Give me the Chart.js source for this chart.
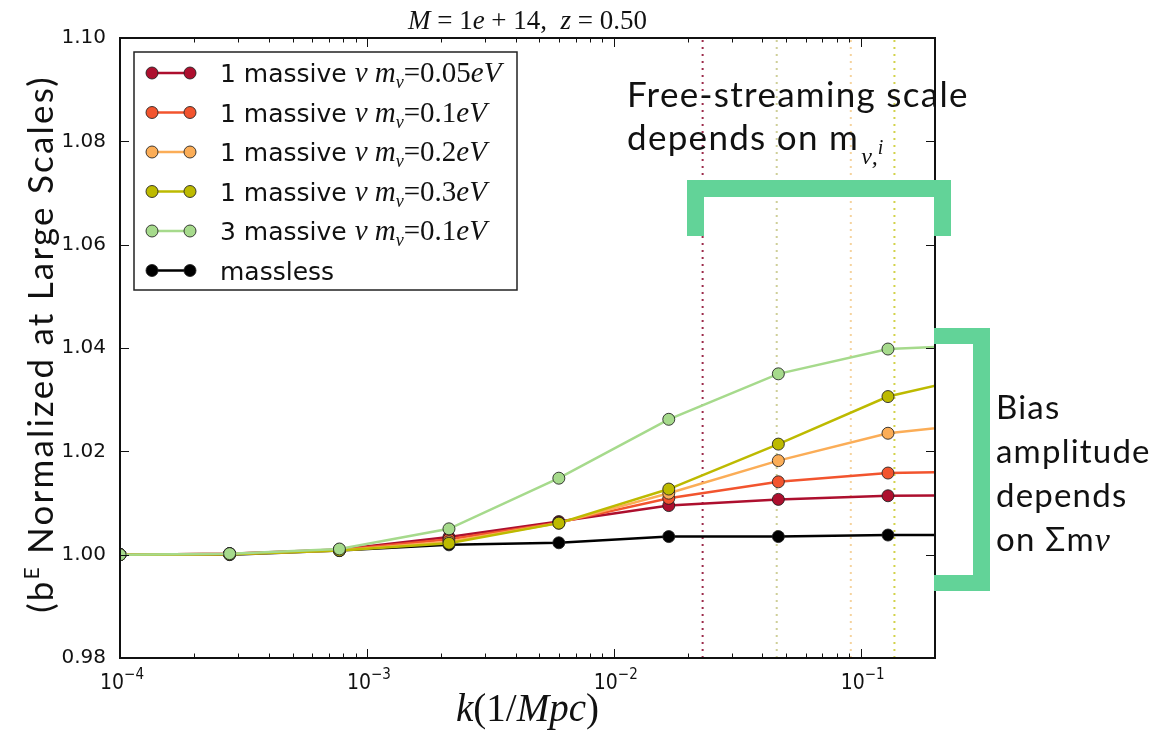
<!DOCTYPE html>
<html>
<head>
<meta charset="utf-8">
<script src="https://cdn.jsdelivr.net/npm/chart.js@4/dist/chart.umd.min.js"></script>
<style>
  body { margin: 0; background: #fff; }
  canvas { display: block; }
</style>
</head>
<body>
<canvas id="grafico" width="1161" height="736"></canvas>
<script>
// k values (1/Mpc) of the sampled points, last one lies beyond the axis edge
const kValues = [1e-4, 2.78e-4, 7.74e-4, 2.15e-3, 5.99e-3, 1.67e-2, 4.64e-2, 0.129, 0.359];

const biasNu005 = [1.0000, 1.0002, 1.0010, 1.0034, 1.0064, 1.0095, 1.0107, 1.0114, 1.0115];
const biasNu01 = [1.0000, 1.0002, 1.0009, 1.0030, 1.0062, 1.0109, 1.0141, 1.0158, 1.0162];
const biasNu02 = [1.0000, 1.0001, 1.0008, 1.0025, 1.0061, 1.0119, 1.0182, 1.0235, 1.0258];
const biasNu03 = [1.0000, 1.0001, 1.0008, 1.0022, 1.0061, 1.0127, 1.0214, 1.0306, 1.0355];
const bias3Nu01 = [1.0000, 1.0002, 1.0011, 1.0050, 1.0148, 1.0262, 1.0350, 1.0398, 1.0407];
const biasMassless = [1.0000, 1.0000, 1.0008, 1.0019, 1.0023, 1.0035, 1.0035, 1.0038, 1.0038];

const seriesCount = [1, 1, 1, 1, 3, 0];
const seriesMass = ['0.05', '0.1', '0.2', '0.3', '0.1', null];
const seriesColors = ['#ad0f2e', '#f2542e', '#fbad57', '#bdba00', '#a6da8c', '#000000'];

// free-streaming scales (vertical dotted lines)
const freeStreamK = [0.0229, 0.0457, 0.0912, 0.137];
const freeStreamColors = ['#9c2b4b', '#cfcf98', '#f5d39e', '#d2d24a'];

const xMajorTicks = [1e-4, 1e-3, 1e-2, 1e-1];
const xTickExp = ['-4', '-3', '-2', '-1'];
const yTicks = [0.98, 1.00, 1.02, 1.04, 1.06, 1.08, 1.10];

const SERIF = '"Liberation Serif", "DejaVu Serif", serif';
const SANS = '"DejaVu Sans", sans-serif';
const COND = '"DejaVu Sans Condensed", "DejaVu Sans", sans-serif';
const NOTE = 'Lato, "Open Sans", sans-serif';
const GREEN = '#62d398';

const allSeries = [biasNu005, biasNu01, biasNu02, biasNu03, bias3Nu01, biasMassless];
// drawing order: green on top, black at the bottom
const drawOrder = [5, 4, 3, 2, 1, 6];

const datasets = allSeries.map((vals, i) => ({
  data: kValues.map((k, j) => ({ x: k, y: vals[j] })),
  borderColor: seriesColors[i],
  backgroundColor: seriesColors[i],
  pointBackgroundColor: seriesColors[i],
  pointBorderColor: 'rgba(30,30,30,0.85)',
  pointBorderWidth: 1,
  pointRadius: 6,
  borderWidth: 2.5,
  tension: 0,
  clip: 0,
  order: drawOrder[i],
  inLegend: true
}));

freeStreamK.forEach((k, i) => {
  datasets.push({
    data: [{ x: k, y: yTicks[0] }, { x: k, y: yTicks[yTicks.length - 1] }],
    borderColor: freeStreamColors[i],
    borderWidth: 2,
    borderDash: [2, 5],
    pointRadius: 0,
    clip: 0,
    order: 10,
    inLegend: false
  });
});

// draws mixed-font text, returns the x where it ends
function drawRuns(ctx, runs, x, y, align, spacing) {
  ctx.letterSpacing = (spacing || 0) + 'px';
  let w = 0;
  runs.forEach(r => { ctx.font = r.font; r.w = ctx.measureText(r.t).width; w += r.w; });
  let cx = align === 'center' ? x - w / 2 : x;
  runs.forEach(r => {
    ctx.font = r.font;
    ctx.fillText(r.t, cx, y + (r.dy || 0));
    cx += r.w;
  });
  ctx.letterSpacing = '0px';
  return cx;
}

const decor = {
  id: 'decor',
  afterDatasetsDraw(chart) {
    const ctx = chart.ctx;
    const a = chart.chartArea;
    const xs = chart.scales.x, ys = chart.scales.y;
    ctx.save();
    ctx.strokeStyle = '#111';
    ctx.lineWidth = 1;
    // inward ticks, like matplotlib
    xs.ticks.forEach(t => {
      const px = Math.round(xs.getPixelForValue(t.value)) + 0.5;
      const len = xMajorTicks.includes(t.value) ? 9 : 4.5;
      ctx.beginPath();
      ctx.moveTo(px, a.bottom); ctx.lineTo(px, a.bottom - len);
      ctx.moveTo(px, a.top); ctx.lineTo(px, a.top + len);
      ctx.stroke();
    });
    ys.ticks.forEach(t => {
      const py = Math.round(ys.getPixelForValue(t.value)) + 0.5;
      ctx.beginPath();
      ctx.moveTo(a.left, py); ctx.lineTo(a.left + 9, py);
      ctx.moveTo(a.right, py); ctx.lineTo(a.right - 9, py);
      ctx.stroke();
    });
    ctx.lineWidth = 2;
    ctx.strokeRect(a.left, a.top, a.right - a.left, a.bottom - a.top);
    ctx.restore();
  },
  afterDraw(chart) {
    const ctx = chart.ctx;
    const a = chart.chartArea;
    const cx = (a.left + a.right) / 2;
    const xs = chart.scales.x;
    ctx.save();
    ctx.fillStyle = '#111';
    ctx.textBaseline = 'alphabetic';

    // x tick labels 10^n
    xMajorTicks.forEach((v, i) => {
      drawRuns(ctx, [
        { t: '10', font: '21px ' + COND },
        { t: '\u2212' + xTickExp[i].slice(1), font: '15px ' + COND, dy: -10 }
      ], xs.getPixelForValue(v) + 2, 689, 'center');
    });

    // title
    const it22 = 'italic 27px ' + SERIF, up22 = '27px ' + SERIF;
    drawRuns(ctx, [
      { t: 'M', font: it22 }, { t: ' = 1', font: up22 }, { t: 'e', font: it22 },
      { t: ' + 14,  ', font: up22 }, { t: 'z', font: it22 }, { t: ' = 0.50', font: up22 }
    ], cx, 29, 'center');

    // x axis title
    const it34 = 'italic 39px ' + SERIF, up34 = '39px ' + SERIF;
    drawRuns(ctx, [
      { t: 'k', font: it34 }, { t: '(1/', font: up34 }, { t: 'Mpc', font: it34 }, { t: ')', font: up34 }
    ], cx, 721, 'center');

    // y axis title
    ctx.save();
    ctx.translate(53, 344);
    ctx.rotate(-Math.PI / 2);
    drawRuns(ctx, [
      { t: '(b', font: '35px ' + NOTE }, { t: 'E', font: '21px ' + NOTE, dy: -14 },
      { t: ' Normalized at Large Scales)', font: '35px ' + NOTE }
    ], 0, 0, 'center', 2.2);
    ctx.restore();

    // legend
    const lx = 134, ly = 52, lw = 383, lh = 238;
    ctx.fillStyle = '#fff';
    ctx.fillRect(lx, ly, lw, lh);
    ctx.strokeStyle = '#222';
    ctx.lineWidth = 1.5;
    ctx.strokeRect(lx, ly, lw, lh);
    const it25 = 'italic 29px ' + SERIF, up25 = '29px ' + SERIF, sub = 'italic 18px ' + SERIF;
    chart.data.datasets.filter(d => d.inLegend).forEach((d, i) => {
      const y = 73 + i * 39.5;
      ctx.strokeStyle = d.borderColor;
      ctx.lineWidth = 2.5;
      ctx.beginPath(); ctx.moveTo(152, y); ctx.lineTo(190, y); ctx.stroke();
      [152, 190].forEach(px => {
        ctx.beginPath();
        ctx.arc(px, y, 6, 0, Math.PI * 2);
        ctx.fillStyle = d.pointBackgroundColor;
        ctx.fill();
        ctx.strokeStyle = 'rgba(30,30,30,0.85)';
        ctx.lineWidth = 1;
        ctx.stroke();
      });
      ctx.fillStyle = '#111';
      const by = y + 9;
      if (seriesMass[i] === null) {
        drawRuns(ctx, [{ t: 'massless', font: '25px ' + SANS }], 220, by, 'left');
      } else {
        drawRuns(ctx, [
          { t: seriesCount[i] + ' massive ', font: '25px ' + SANS },
          { t: '\u03BD m', font: it25 }, { t: '\u03BD', font: sub, dy: 6 },
          { t: '=' + seriesMass[i], font: up25 }, { t: 'eV', font: it25 }
        ], 220, by, 'left');
      }
    });

    // annotations
    ctx.fillStyle = GREEN;
    ctx.fillRect(687, 180, 264, 17);
    ctx.fillRect(687, 180, 17, 56);
    ctx.fillRect(934, 180, 17, 56);
    ctx.fillRect(934, 328, 56, 16);
    ctx.fillRect(973, 328, 17, 263);
    ctx.fillRect(934, 575, 56, 16);

    ctx.fillStyle = '#111';
    drawRuns(ctx, [{ t: 'Free-streaming scale', font: '35px ' + NOTE }], 627, 107, 'left', 1.3);
    const mEnd = drawRuns(ctx, [{ t: 'depends on m', font: '35px ' + NOTE }], 627, 150, 'left', 1.3);
    drawRuns(ctx, [
      { t: '\u03BD,', font: 'italic 24px ' + SERIF },
      { t: 'i', font: 'italic 20px ' + SERIF, dy: -10 }
    ], mEnd + 2, 164, 'left');
    const bias = ['Bias', 'amplitude', 'depends'];
    bias.forEach((s, i) => drawRuns(ctx, [{ t: s, font: '33px ' + NOTE }], 996, 419 + i * 44, 'left', 1.2));
    drawRuns(ctx, [
      { t: 'on \u03A3m', font: '33px ' + NOTE }, { t: '\u03BD', font: 'italic 34px ' + SERIF }
    ], 996, 551, 'left', 1.2);
    ctx.restore();
  }
};

new Chart(document.getElementById('grafico').getContext('2d'), {
  type: 'line',
  data: { datasets },
  options: {
    responsive: false,
    animation: false,
    layout: { padding: { left: 0, right: 226, top: 38, bottom: 0 } },
    plugins: { legend: { display: false }, title: { display: false }, tooltip: { enabled: false } },
    scales: {
      x: {
        type: 'logarithmic',
        min: 1e-4,
        max: 0.2,
        afterBuildTicks: (scale) => {
          const t = [];
          xMajorTicks.forEach(m => {
            for (let s = 1; s <= 9; s++) {
              const v = m * s;
              if (v <= 0.2) t.push({ value: s === 1 ? m : v });
            }
          });
          scale.ticks = t;
        },
        afterFit: (scale) => { scale.height = 78; },
        grid: { display: false },
        border: { display: false },
        ticks: { display: false, autoSkip: false }
      },
      y: {
        min: yTicks[0],
        max: yTicks[yTicks.length - 1],
        afterBuildTicks: (scale) => { scale.ticks = yTicks.map(v => ({ value: v })); },
        afterFit: (scale) => { scale.width = 120; },
        grid: { display: false },
        border: { display: false },
        ticks: {
          padding: 6,
          color: '#111',
          font: { family: SANS, size: 20 },
          callback: (v) => Number(v).toFixed(2)
        }
      }
    }
  },
  plugins: [decor]
});
</script>
</body>
</html>
